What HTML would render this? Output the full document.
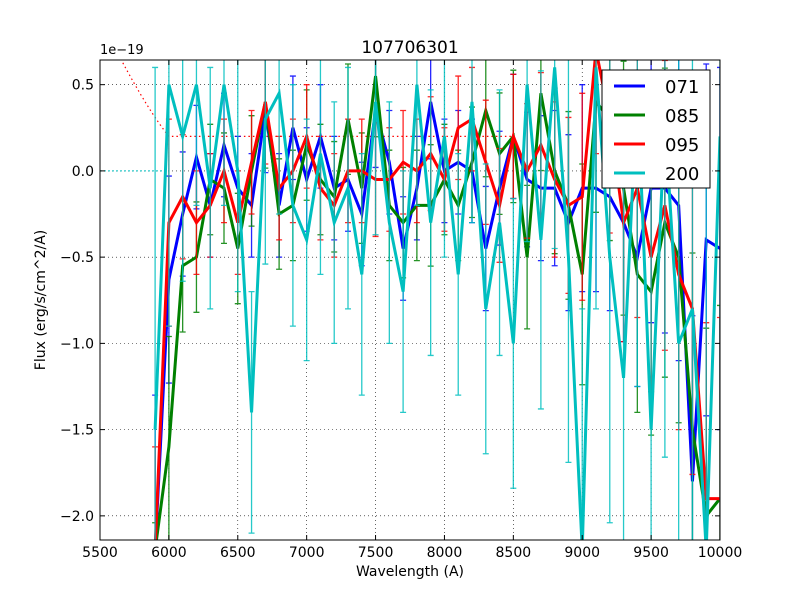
<!DOCTYPE html>
<html><head><meta charset="utf-8"><style>
html,body{margin:0;padding:0;background:#fff;overflow:hidden;width:800px;height:600px}
svg{display:block}
svg text{font-family:"DejaVu Sans","Liberation Sans",sans-serif}
</style></head><body>
<svg id="chart" width="800" height="600" xmlns="http://www.w3.org/2000/svg">
<rect width="800" height="600" fill="#fff"/>
<defs><clipPath id="pc"><rect x="100" y="60" width="620" height="480"/></clipPath></defs>
<g id="grid"></g>
<g id="plot" clip-path="url(#pc)"></g>
<rect x="100" y="60" width="620" height="480" fill="none" stroke="#000" stroke-width="1"/>
<g id="ticks"></g>
<text x="410" y="53" font-size="17" text-anchor="middle">107706301</text>
<text x="100" y="54" font-size="13">1e−19</text>
<text x="410" y="576" font-size="14" text-anchor="middle">Wavelength (A)</text>
<text x="45" y="300" font-size="14" text-anchor="middle" transform="rotate(-90 45 300)">Flux (erg/s/cm^2/A)</text>
<g id="legend"></g>
</svg>
<script>
const wavelengths=[5900,6000,6100,6200,6300,6400,6500,6600,6700,6800,6900,7000,7100,7200,7300,7400,7500,7600,7700,7800,7900,8000,8100,8200,8300,8400,8500,8600,8700,8800,8900,9000,9100,9200,9300,9400,9500,9600,9700,9800,9900,10000];
const s071=[-2.2,-0.63,-0.25,0.08,-0.2,0.15,-0.1,-0.2,0.35,-0.2,0.25,-0.05,0.2,-0.1,-0.05,-0.25,0.35,0.05,-0.45,-0.1,0.4,0.0,0.05,0.0,-0.45,-0.1,0.2,-0.05,-0.1,-0.1,-0.3,-0.1,-0.1,-0.15,-0.3,-0.5,-0.1,-0.1,-0.2,-1.8,-0.4,-0.45];
const s085=[-3,-1.6,-0.55,-0.5,-0.05,-0.1,-0.45,0.0,0.4,-0.25,-0.2,0.15,-0.05,-0.15,0.3,-0.1,0.55,-0.2,-0.3,-0.2,-0.2,-0.05,-0.2,0.05,0.35,0.1,0.2,-0.5,0.45,0.0,-0.2,-0.6,0.4,0.3,-0.1,-0.6,-0.7,-0.3,-0.5,-1.5,-2.0,-1.9];
const s095=[-2.5,-0.3,-0.15,-0.3,-0.2,0.0,-0.3,0.05,0.4,-0.1,0.0,0.2,-0.1,-0.2,0.0,0.0,-0.05,-0.05,0.05,0.0,0.1,-0.05,0.25,0.3,0.05,-0.2,0.2,0.0,0.15,-0.05,-0.2,-0.15,0.7,0.3,-0.3,-0.1,-0.5,-0.2,-0.6,-0.8,-1.9,-1.9];
const s200=[-1.5,0.5,0.2,0.5,-0.1,0.5,0.0,-1.4,0.3,0.45,-0.2,-0.4,0.1,-0.3,-0.1,-0.6,0.4,-0.3,-0.7,0.5,-0.3,0.2,-0.6,0.4,-0.8,-0.3,-1.0,0.5,-0.4,0.6,-0.5,-2.2,0.6,-0.5,-1.2,0.5,-1.5,0.3,-1.0,-0.8,-2.3,0.2];
const errScale=[3,2,1.2,1,1,1,1,1,1.2,1,1,1,1,1,1,1,1.1,1,1,1,1.1,1,1,1,1.2,1.1,1.2,1.3,1.4,1.5,1.7,2,2,2.2,2.3,2.5,2.6,2.8,3,3.2,3.4,3.5];
const seriesNames=["071","085","095","200"];
const seriesColors=["#0000ff","#008000","#ff0000","#00bfbf"];
const seriesErr=[0.3,0.32,0.3,0.7];
const xTicks=[5500,6000,6500,7000,7500,8000,8500,9000,9500,10000];
const yTicks=[0.5,0.0,-0.5,-1.0,-1.5,-2.0];
const yTickLabels=["0.5","0.0","−0.5","−1.0","−1.5","−2.0"];
const xMin=5500,xMax=10000,yMin=-2.14,yMax=0.643;
const X=v=>100+(v-xMin)/(xMax-xMin)*620;
const Y=v=>540-(v-yMin)/(yMax-yMin)*480;
// clamp drawn coordinates just beyond the axes so nothing leaves the frame
const YC=v=>Math.max(50,Math.min(550,Y(v)));
const NS="http://www.w3.org/2000/svg";
function mk(tag,attrs,parent){const e=document.createElementNS(NS,tag);for(const k in attrs)e.setAttribute(k,attrs[k]);parent.appendChild(e);return e;}
const grid=document.getElementById('grid'),plot=document.getElementById('plot'),ticks=document.getElementById('ticks'),legend=document.getElementById('legend');
xTicks.forEach(t=>{
 const g=mk('line',{x1:X(t),x2:X(t),y1:60,y2:540,stroke:'#000','stroke-width':0.6,'stroke-dasharray':'1,3'},grid);
 
 
 mk('line',{x1:X(t),x2:X(t),y1:540,y2:535,stroke:'#000'},ticks);
 mk('line',{x1:X(t),x2:X(t),y1:60,y2:65,stroke:'#000'},ticks);
 const tx=mk('text',{x:X(t),y:557,'font-size':14,'text-anchor':'middle'},ticks);tx.textContent=t;
 
 
});
yTicks.forEach((t,i)=>{
 const g=mk('line',{x1:100,x2:720,y1:Y(t),y2:Y(t),stroke:'#000','stroke-width':0.6,'stroke-dasharray':'1,3'},grid);
 
 
 mk('line',{x1:100,x2:105,y1:Y(t),y2:Y(t),stroke:'#000'},ticks);
 mk('line',{x1:715,x2:720,y1:Y(t),y2:Y(t),stroke:'#000'},ticks);
 const tx=mk('text',{x:94,y:Y(t)+5,'font-size':14,'text-anchor':'end'},ticks);tx.textContent=yTickLabels[i];
 
 
});
const refCurve=mk('path',{d:`M${X(5650)},${YC(0.65)} Q${X(5850)},${Y(0.35)} ${X(6000)},${Y(0.2)} L${X(8500)},${Y(0.2)}`,fill:'none',stroke:'#ff0000','stroke-width':1.2,'stroke-dasharray':'1.5,3'},plot);


const zeroLine=mk('line',{x1:100,x2:X(6000),y1:Y(0),y2:Y(0),stroke:'#00bfbf','stroke-width':1,'stroke-dasharray':'2,2'},plot);


const allSeries=[s071,s085,s095,s200];
allSeries.forEach((s,si)=>{
 const g=mk('g',{},plot);
 
 
 s.forEach((v,i)=>{
  const e=seriesErr[si]*errScale[i],x=X(wavelengths[i]);
  const lo=YC(v-e),hi=YC(v+e);
  let d=`M${x},${lo}V${hi}`;
  if(lo<540)d+=`M${x-3},${lo}h6`;
  if(hi>60)d+=`M${x-3},${hi}h6`;
  const eb=mk('path',{d:d,stroke:seriesColors[si],'stroke-width':1.3,opacity:0.85,fill:'none'},g);
  
  
 });
 const ln=mk('polyline',{points:s.map((v,i)=>X(wavelengths[i])+','+YC(v)).join(' '),fill:'none',stroke:seriesColors[si],'stroke-width':3},g);
 
 
});
mk('rect',{x:602,y:70,width:108,height:118,fill:'#fff',stroke:'#000'},legend);
seriesNames.forEach((n,i)=>{
 const y=86+i*29;
 const l=mk('line',{x1:614,x2:645,y1:y,y2:y,stroke:seriesColors[i],'stroke-width':3},legend);
 
 
 const t=mk('text',{x:665,y:y+7,'font-size':18},legend);t.textContent=n;
 
 
});
</script>
</body></html>
